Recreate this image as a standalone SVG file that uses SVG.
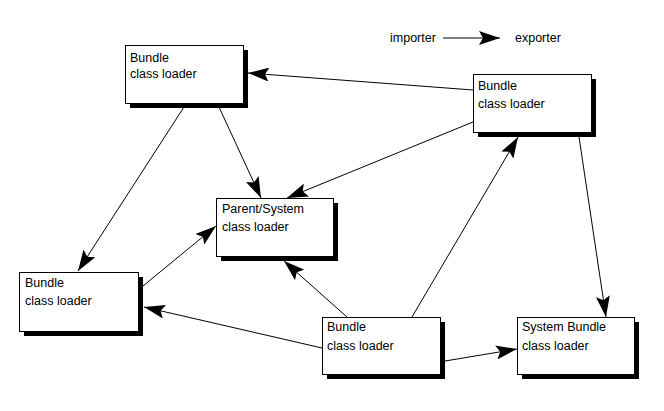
<svg xmlns="http://www.w3.org/2000/svg" width="664" height="411" viewBox="0 0 664 411">
<style>
.box{fill:#fff;stroke:#000;stroke-width:1}
.sh{fill:#000}
.t{font-family:"Liberation Sans",Arial,sans-serif;font-size:12.5px;fill:#000}
.c{stroke:#000;stroke-width:1;fill:none;marker-end:url(#ah)}
</style>
<defs>
<marker id="ah" markerUnits="userSpaceOnUse" markerWidth="22" markerHeight="14" refX="21" refY="7" orient="auto">
<path d="M0,0 L21,7 L0,14 L4,7 Z" fill="#000"/>
</marker>
</defs>
<rect width="664" height="411" fill="#fff"/>
<g id="legend">
<text class="t" x="390" y="42">importer</text>
<line x1="443" y1="38" x2="500" y2="38" class="c"/>
<text class="t" x="515" y="42">exporter</text>
</g>
<g id="connectors">
<line class="c" x1="473" y1="90" x2="248" y2="73"/>
<line class="c" x1="473" y1="122" x2="287" y2="198"/>
<line class="c" x1="219" y1="107" x2="261" y2="198"/>
<line class="c" x1="184" y1="107" x2="78" y2="271"/>
<line class="c" x1="143" y1="286" x2="216" y2="226"/>
<line class="c" x1="347" y1="317" x2="284" y2="261"/>
<line class="c" x1="322" y1="348" x2="144" y2="307"/>
<line class="c" x1="412" y1="317" x2="518" y2="137"/>
<line class="c" x1="579" y1="137" x2="606" y2="317"/>
<line class="c" x1="445" y1="361" x2="517" y2="349"/>
</g>
<g id="bundle1">
<rect class="sh" x="130" y="50" width="118" height="58"/>
<rect class="box" x="125.5" y="45.5" width="118" height="58"/>
<text class="t" x="130" y="62">Bundle</text>
<text class="t" x="130" y="78">class loader</text>
</g>
<g id="bundle2">
<rect class="sh" x="478" y="79" width="118" height="58"/>
<rect class="box" x="473.5" y="74.5" width="118" height="58"/>
<text class="t" x="478" y="90">Bundle</text>
<text class="t" x="478" y="108">class loader</text>
</g>
<g id="parent">
<rect class="sh" x="221" y="203" width="117" height="58"/>
<rect class="box" x="216.5" y="198.5" width="117" height="58"/>
<text class="t" x="222" y="213">Parent/System</text>
<text class="t" x="222" y="231">class loader</text>
</g>
<g id="bundle3">
<rect class="sh" x="24" y="277" width="119" height="59"/>
<rect class="box" x="19.5" y="272.5" width="119" height="59"/>
<text class="t" x="25" y="287">Bundle</text>
<text class="t" x="25" y="305">class loader</text>
</g>
<g id="bundle4">
<rect class="sh" x="327" y="322" width="118" height="57"/>
<rect class="box" x="322.5" y="317.5" width="118" height="57"/>
<text class="t" x="327" y="331">Bundle</text>
<text class="t" x="327" y="350">class loader</text>
</g>
<g id="systembundle">
<rect class="sh" x="522" y="322" width="117" height="57"/>
<rect class="box" x="517.5" y="317.5" width="117" height="57"/>
<text class="t" x="522" y="331">System Bundle</text>
<text class="t" x="522" y="350">class loader</text>
</g>
</svg>
